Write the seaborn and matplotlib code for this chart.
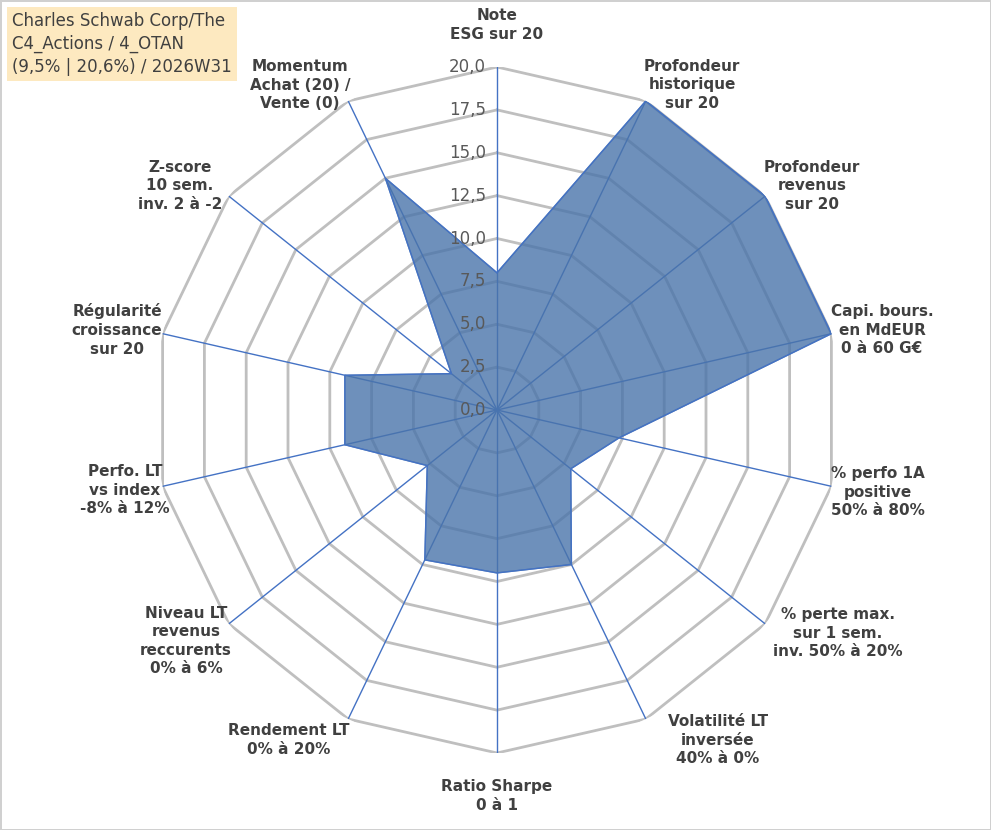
import numpy as np
import matplotlib
matplotlib.use("Agg")
import matplotlib.pyplot as plt
import seaborn as sns

sns.set_theme(style="white")
plt.rcParams['font.family'] = ['DejaVu Sans']

labels = ["Note\nESG sur 20", "Profondeur\nhistorique\nsur 20", "Profondeur\nrevenus\nsur 20",
          "Capi. bours.\nen MdEUR\n0 à 60 G€", "% perfo 1A\npositive\n50% à 80%",
          "% perte max.\nsur 1 sem.\ninv. 50% à 20%", "Volatilité LT\ninversée\n40% à 0%",
          "Ratio Sharpe\n0 à 1", "Rendement LT\n0% à 20%", "Niveau LT\nrevenus\nreccurents\n0% à 6%",
          "Perfo. LT\nvs index\n-8% à 12%", "Régularité\ncroissance\nsur 20",
          "Z-score\n10 sem.\ninv. 2 à -2", "Momentum\nAchat (20) /\nVente (0)"]
values = [8.0, 20.0, 20.0, 20.0, 7.3, 5.5, 10.0, 9.5, 9.7, 5.2, 9.1, 9.1, 3.4, 15.0]
label_pos = [(497, 25), (692, 85), (812, 186), (882, 330), (878, 492), (838, 633), (718, 740),
             (497, 796), (289, 740), (186, 641), (125, 490), (117, 330), (180, 186), (300, 85)]
rings = np.arange(2.5, 20.01, 2.5)
title = "Charles Schwab Corp/The\nC4_Actions / 4_OTAN\n(9,5% | 20,6%) / 2026W31"

W, H = 991, 830
fig = plt.figure(figsize=(W / 100, H / 100), dpi=100)
fig.patch.set_edgecolor("#d0d0d0")
fig.patch.set_linewidth(2)
cx, cy, R = 497 / W, 1 - 410 / H, 343
ax = fig.add_axes([cx - R / W, cy - R / H, 2 * R / W, 2 * R / H], projection="polar")
ax.set_theta_zero_location("N")
ax.set_theta_direction(-1)
ax.grid(False)
ax.spines["polar"].set_visible(False)
ax.set_xticks([])
ax.set_yticks([])
ax.set_ylim(0, 20)

n = len(values)
theta = np.linspace(0, 2 * np.pi, n, endpoint=False)
tc = np.append(theta, theta[0])

for r in rings:
    ax.plot(tc, [r] * (n + 1), color="#bfbfbf", lw=2, zorder=1)
for t in theta:
    ax.plot([t, t], [0, 20], color="#4472c4", lw=1, zorder=2)

vc = np.append(values, values[0])
ax.fill(tc, vc, color="#4a74aa", alpha=0.8, zorder=3)
ax.plot(tc, vc, color="#4472c4", lw=1, zorder=4)

for r in np.append(0, rings):
    ax.annotate(f"{r:.1f}".replace(".", ","), (0, r), xytext=(-8, 0), textcoords="offset points",
                ha="right", va="center", fontsize=12, color="#595959", zorder=5)

for lab, (x, y) in zip(labels, label_pos):
    fig.text(x / W, 1 - y / H, lab, ha="center", va="center", fontsize=11,
             fontweight="bold", color="#404040", linespacing=1.3)

fig.text(12 / W, 1 - 12 / H, title, ha="left", va="top", fontsize=12, color="#404040",
         linespacing=1.35, bbox=dict(boxstyle="square,pad=0.3", fc="#fde9c0", ec="none"))

fig.savefig("out.png", dpi=100)
